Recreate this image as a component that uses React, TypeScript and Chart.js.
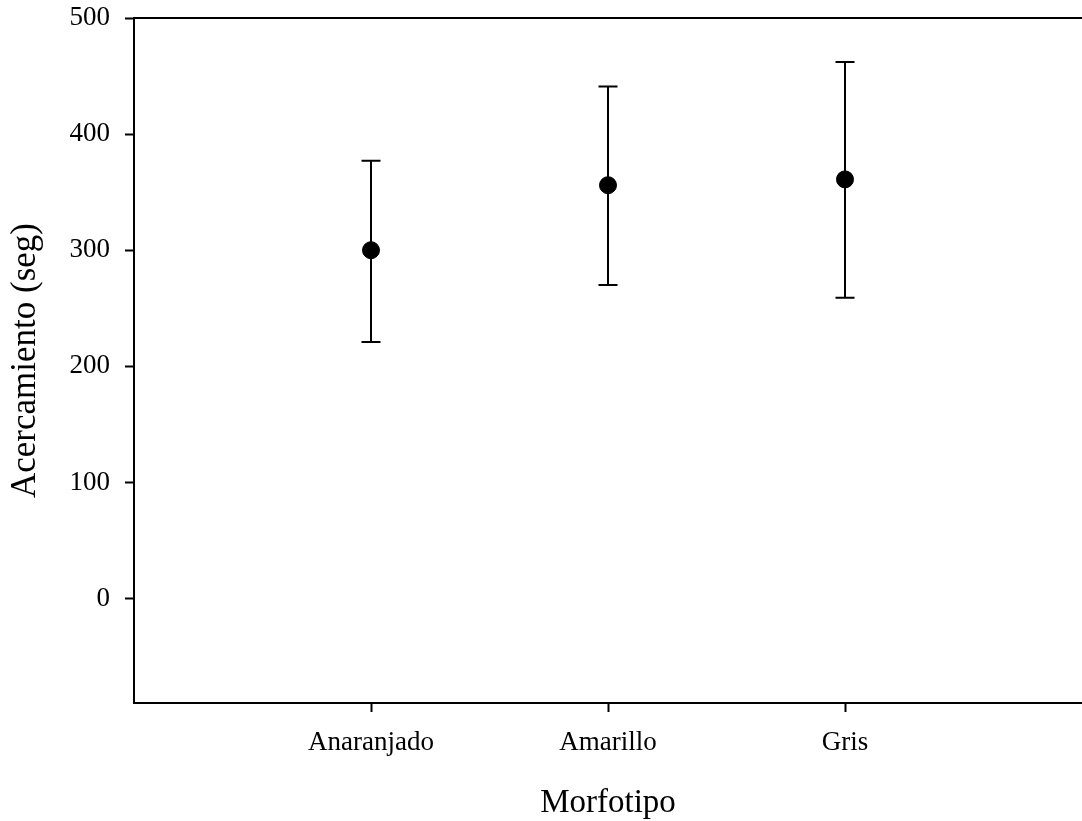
import React, { useEffect, useRef } from "react";
import { Chart, registerables } from "chart.js";

Chart.register(...registerables);

const categories = ["Anaranjado", "Amarillo", "Gris"];
const categoryPositions = [1, 2, 3];
const means = [300, 356, 361];
const upper = [377, 441, 462];
const lower = [221, 270, 259];
const yTicks = [0, 100, 200, 300, 400, 500];

const FONT = "'Liberation Serif', 'DejaVu Serif', serif";

const errorBarPlugin = {
  id: "errorBars",
  beforeDatasetsDraw(chart: any) {
    const { ctx, scales } = chart;
    const xs = scales.x;
    const ys = scales.y;
    ctx.save();
    ctx.strokeStyle = "#000";
    ctx.lineWidth = 2;
    for (let i = 0; i < means.length; i++) {
      const x = xs.getPixelForValue(categoryPositions[i]);
      const yt = ys.getPixelForValue(upper[i]);
      const yb = ys.getPixelForValue(lower[i]);
      ctx.beginPath();
      ctx.moveTo(x, yt);
      ctx.lineTo(x, yb);
      ctx.moveTo(x - 9.5, yt);
      ctx.lineTo(x + 9.5, yt);
      ctx.moveTo(x - 9.5, yb);
      ctx.lineTo(x + 9.5, yb);
      ctx.stroke();
    }
    ctx.restore();
  },
  afterDraw(chart: any) {
    const { ctx, chartArea } = chart;
    ctx.save();
    ctx.strokeStyle = "#000";
    ctx.lineWidth = 2;
    ctx.beginPath();
    ctx.moveTo(chartArea.left - 1, chartArea.top);
    ctx.lineTo(chartArea.right + 2, chartArea.top);
    ctx.stroke();
    ctx.restore();
  },
};

export default function App() {
  const ref = useRef<HTMLCanvasElement | null>(null);
  useEffect(() => {
    if (!ref.current) return;
    const chart = new Chart(ref.current, {
      type: "scatter",
      data: {
        datasets: [
          {
            data: means.map((m, i) => ({ x: categoryPositions[i], y: m })),
            backgroundColor: "#000",
            borderColor: "#000",
            pointRadius: 8.5,
            pointHoverRadius: 8.5,
          },
        ],
      },
      options: {
        animation: false,
        responsive: false,
        maintainAspectRatio: false,
        layout: { autoPadding: false, padding: { top: 18, left: 0, right: -3, bottom: 0 } },
        plugins: { legend: { display: false }, tooltip: { enabled: false } },
        scales: {
          x: {
            type: "linear",
            min: 0,
            max: 4,
            afterBuildTicks: (s: any) => {
              s.ticks = categoryPositions.map((v) => ({ value: v }));
            },
            afterFit: (s: any) => {
              s.height = 118;
              s.paddingLeft = 0;
              s.paddingRight = 0;
              s.paddingTop = 0;
              s.paddingBottom = 0;
            },
            ticks: {
              callback: (v: any) => {
                const idx = categoryPositions.indexOf(Number(v));
                return idx >= 0 ? categories[idx] : "";
              },
              color: "#000",
              font: { family: FONT, size: 27 },
              padding: 15,
              maxRotation: 0,
            },
            grid: { drawOnChartArea: false, tickLength: 9, tickWidth: 2, tickColor: "#000" },
            border: { display: true, color: "#000", width: 2 },
            title: {
              display: true,
              text: "Morfotipo",
              color: "#000",
              font: { family: FONT, size: 33 },
              padding: { top: 0, bottom: -2 },
            },
          },
          y: {
            type: "linear",
            min: -90,
            max: 500,
            afterBuildTicks: (s: any) => {
              s.ticks = yTicks.map((v) => ({ value: v }));
            },
            afterFit: (s: any) => {
              s.width = 134;
              s.paddingLeft = 0;
              s.paddingRight = 0;
              s.paddingTop = 0;
              s.paddingBottom = 0;
            },
            ticks: {
              color: "#000",
              font: { family: FONT, size: 27 },
              padding: 15,
            },
            grid: { drawOnChartArea: false, tickLength: 9, tickWidth: 2, tickColor: "#000" },
            border: { display: true, color: "#000", width: 2 },
            title: {
              display: true,
              text: "Acercamiento (seg)",
              color: "#000",
              font: { family: FONT, size: 35 },
              padding: { top: 5, bottom: 0 },
            },
          },
        },
      },
      plugins: [errorBarPlugin],
    });
    return () => chart.destroy();
  }, []);
  return (
    <div style={{ position: "fixed", left: 0, top: 0, width: 1082, height: 821, background: "#fff" }}>
      <canvas ref={ref} width={1082} height={821} style={{ display: "block" }} />
    </div>
  );
}
